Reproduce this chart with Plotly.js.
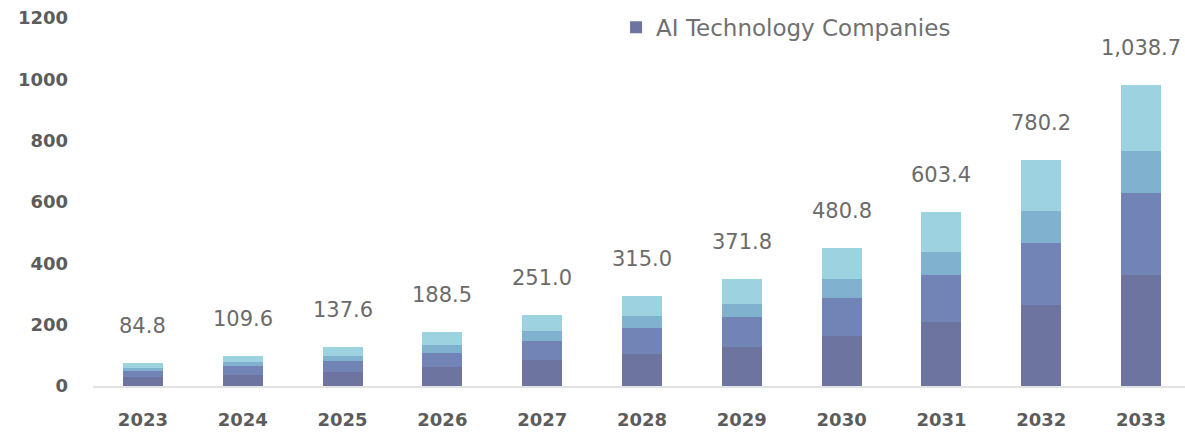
<!DOCTYPE html>
<html>
<head>
<meta charset="utf-8">
<script src="https://cdn.plot.ly/plotly-3.0.1.min.js"></script>
<style>
html,body{margin:0;padding:0;background:#fff;}
#chart{width:1185px;height:433px;}
</style>
</head>
<body>
<div id="chart"></div>
<script>
const years = ['2023','2024','2025','2026','2027','2028','2029','2030','2031','2032','2033'];
const seriesDark  = [28, 36, 46, 63, 85, 104, 126, 163, 208, 264, 362];
const seriesBlue  = [21, 28, 36, 46, 62, 84, 98, 125, 154, 203, 267];
const seriesMid   = [11, 14, 17, 25, 33, 41, 43, 60, 76, 103, 137];
const seriesLight = [16, 21, 27, 41, 52, 64, 81, 101, 128, 166, 215];
const totalLabels = ['84.8','109.6','137.6','188.5','251.0','315.0','371.8','480.8','603.4','780.2','1,038.7'];
const legendName = 'AI Technology Companies';

const colors = ['#6c749f', '#7284b6', '#80b2d0', '#9dd3e1'];
const seriesList = [seriesDark, seriesBlue, seriesMid, seriesLight];

const traces = seriesList.map((s, i) => ({
  type: 'bar',
  x: years,
  y: s,
  name: legendName,
  showlegend: i === 0,
  marker: {color: colors[i], line: {width: 0}},
  hoverinfo: 'x+y'
}));

const totals = years.map((_, k) => seriesList.reduce((a, s) => a + s[k], 0));

const annotations = years.map((yr, k) => ({
  x: k, y: totals[k], xref: 'x', yref: 'y',
  text: totalLabels[k], showarrow: false,
  yanchor: 'bottom', yshift: 23,
  font: {family: 'DejaVu Sans, sans-serif', size: 21, color: '#6b6b6b'}
}));

const layout = {
  width: 1185, height: 433,
  margin: {l: 93, r: 0, t: 18, b: 47},
  paper_bgcolor: '#ffffff', plot_bgcolor: '#ffffff',
  barmode: 'stack',
  bargap: 0.6,
  showlegend: true,
  legend: {
    x: 0.479, y: 0.975, xanchor: 'left', yanchor: 'middle',
    orientation: 'h', bgcolor: 'rgba(0,0,0,0)',
    font: {family: 'DejaVu Sans, sans-serif', size: 23, color: '#707070'}
  },
  xaxis: {
    type: 'category',
    range: [-0.5, 10.44],
    showline: true, linecolor: '#e2e2e2', linewidth: 1.5,
    showgrid: false, zeroline: false,
    ticks: '', ticklabelstandoff: 17,
    tickfont: {family: 'DejaVu Sans, sans-serif', size: 18, color: '#5c5c5c', weight: 'bold'}
  },
  yaxis: {
    range: [0, 1200],
    tickvals: [0, 200, 400, 600, 800, 1000, 1200],
    ticktext: ['0','200','400','600','800','1000','1200'],
    showgrid: false, zeroline: false, showline: false,
    ticks: '', ticklabelstandoff: 24,
    tickfont: {family: 'DejaVu Sans, sans-serif', size: 18, color: '#5c5c5c', weight: 'bold'}
  },
  annotations: annotations
};

Plotly.newPlot('chart', traces, layout, {displayModeBar: false, staticPlot: true});
</script>
</body>
</html>
